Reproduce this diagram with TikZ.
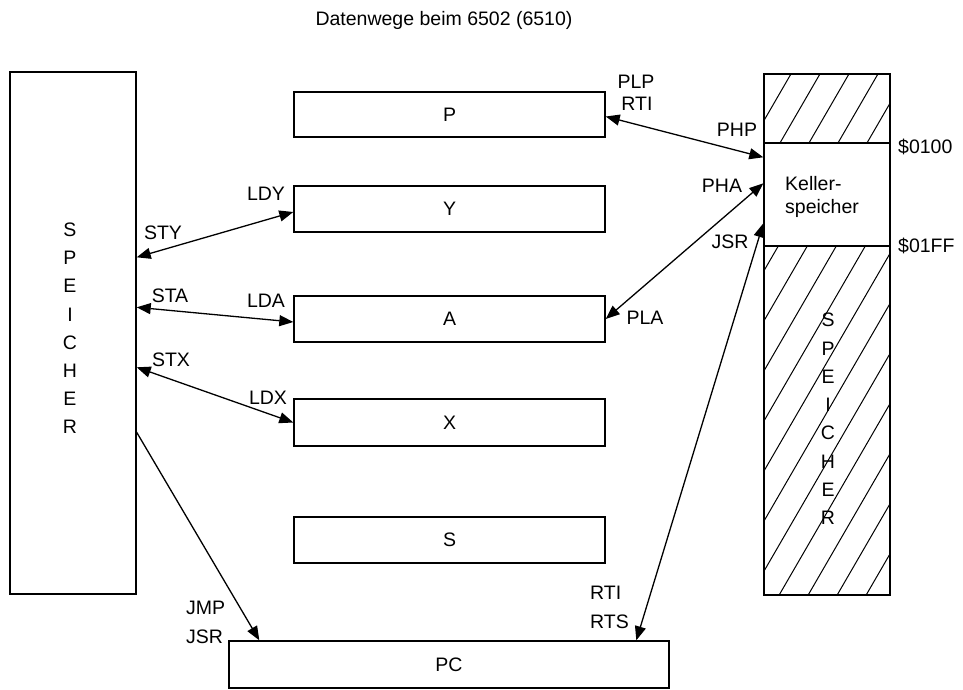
\documentclass[tikz,border=0pt]{standalone}
\usepackage{fontspec}
\setmainfont{Liberation Sans}
\usetikzlibrary{arrows.meta}
\begin{document}
\begin{tikzpicture}[x=1pt,y=-1pt,
  txt/.style={font=\fontsize{19.5}{23}\selectfont},
  regbox/.style={draw, line width=1.4pt, inner sep=0pt, txt},
  lbl/.style={inner sep=0pt, txt},
  hatch/.style={line width=1pt},
  darr/.style={line width=1.3pt, {Triangle[length=14pt,width=11pt]}-{Triangle[length=14pt,width=11pt]}},
  sarr/.style={line width=1.3pt, -{Triangle[length=14pt,width=11pt]}}]
\useasboundingbox (0,0) rectangle (963,689);

% title
\node[lbl] (title) at (444,20) {Datenwege beim 6502 (6510)};

% main memory
\node[regbox, minimum width=126pt, minimum height=522pt] (mem) at (73,333) {};
\foreach \l [count=\i from 0] in {S,P,E,I,C,H,E,R}
  \node[lbl] (m\i) at (70,{230+28.1*\i}) {\l};

% registers
\node[regbox, minimum width=311pt, minimum height=45pt] (P) at (449.5,114.5) {P};
\node[regbox, minimum width=311pt, minimum height=46pt] (Y) at (449.5,209) {Y};
\node[regbox, minimum width=311pt, minimum height=46pt] (A) at (449.5,319) {A};
\node[regbox, minimum width=311pt, minimum height=47pt] (X) at (449.5,422.5) {X};
\node[regbox, minimum width=311pt, minimum height=46pt] (S) at (449.5,540) {S};
\node[regbox, minimum width=440pt, minimum height=47pt] (PC) at (449,664.5) {PC};

% stack memory with hatching
\node[regbox, minimum width=126pt, minimum height=521pt] (stk) at (827,334.5) {};
\begin{scope}
  \clip (764,74) rectangle (890,595);
  \foreach \k in {-12,...,5}
    \draw[hatch] ({778+29*\k},597) -- ++(303.5,-524);
\end{scope}
\node[regbox, fill=white, minimum width=126pt, minimum height=103pt] (kel) at (827,194.5) {};
\node[lbl, anchor=west] (k1) at (785,184) {Keller-};
\node[lbl, anchor=west] (k2) at (785,208) {speicher};
\node[lbl, anchor=west] (a1) at (898,147) {\$0100};
\node[lbl, anchor=west] (a2) at (898,246) {\$01FF};
\foreach \l [count=\i from 0] in {S,P,E,I,C,H,E,R}
  \node[lbl] (s\i) at (828,{320+28.3*\i}) {\l};

% connectors
\draw[darr] ([yshift=-186pt]mem.north east) -- ([yshift=-3pt]Y.west);
\draw[darr] ([yshift=-236pt]mem.north east) -- ([yshift=-3pt]A.west);
\draw[darr] ([yshift=-296pt]mem.north east) -- (X.west);
\draw[sarr] ([yshift=-361pt]mem.north east) -- ([xshift=31pt]PC.north west);
\draw[darr] ([yshift=-2pt]P.east) -- ([yshift=-15pt]kel.north west);
\draw[darr] (A.east) -- ([yshift=-41pt]kel.north west);
\draw[darr] ([xshift=408pt]PC.north west) -- ([yshift=-81pt]kel.north west);

% connector labels
\node[lbl] (lsty) at (163,233) {STY};
\node[lbl] (lldy) at (266,194) {LDY};
\node[lbl] (lsta) at (170,296) {STA};
\node[lbl] (llda) at (266,301) {LDA};
\node[lbl] (lstx) at (171,360) {STX};
\node[lbl] (lldx) at (268,398) {LDX};
\node[lbl, anchor=west] (ljmp) at (186,608) {JMP};
\node[lbl, anchor=west] (ljsr) at (186,637) {JSR};
\node[lbl] (lplp) at (636,82) {PLP};
\node[lbl] (lrti) at (637,104) {RTI};
\node[lbl] (lphp) at (737,130) {PHP};
\node[lbl] (lpha) at (722,186) {PHA};
\node[lbl] (ljsr2) at (730,242) {JSR};
\node[lbl] (lpla) at (645,318) {PLA};
\node[lbl, anchor=west] (lrti2) at (590,593) {RTI};
\node[lbl, anchor=west] (lrts) at (590,622) {RTS};
\end{tikzpicture}
\end{document}
